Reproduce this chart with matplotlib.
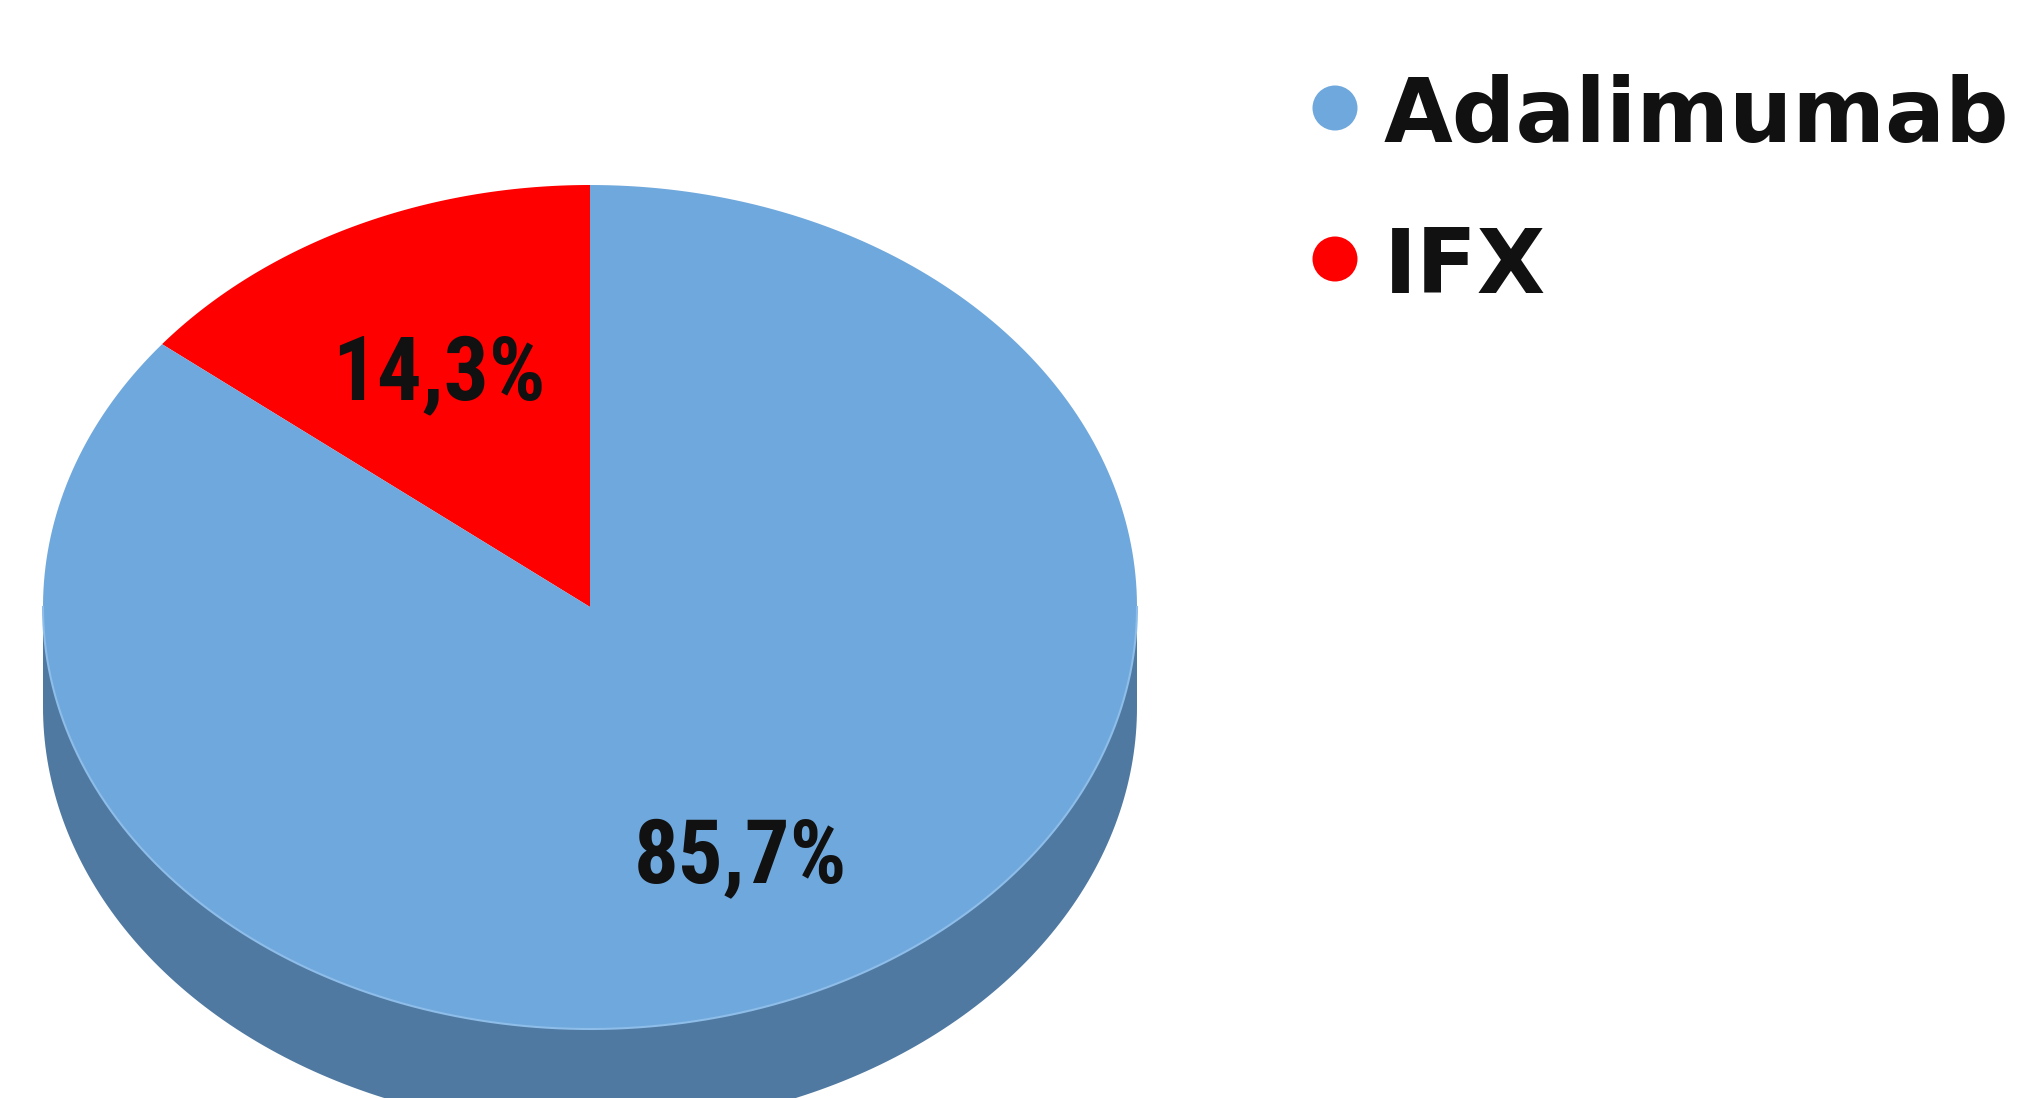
"""3D-style pie: share of Adalimumab vs IFX."""

import numpy as np
import matplotlib
matplotlib.use("Agg")
import matplotlib.pyplot as plt
from matplotlib import font_manager
from matplotlib.patches import Polygon

labels = ["Adalimumab", "IFX"]
values = [85.7, 14.3]
pct_text = ["85,7%", "14,3%"]
top_colors = ["#6FA8DC", "#FF0000"]
side_colors = ["#4F79A1", "#B00000"]

# pie geometry (pixels, y down)
CX, CY = 590, 607
RX, RY = 547, 422
DEPTH = 100
START = 90.0  # IFX begins at 12 o'clock and runs counter-clockwise


def pick_font(cands):
    have = {f.name for f in font_manager.fontManager.ttflist}
    for c in cands:
        if c in have:
            return c
    return "DejaVu Sans"


NARROW = pick_font(["Liberation Sans Narrow", "Roboto Condensed", "DejaVu Sans"])


def pt(t_deg, r=1.0, dy=0.0):
    t = np.deg2rad(t_deg)
    return CX + r * RX * np.cos(t), CY - r * RY * np.sin(t) + dy


def main():
    fig = plt.figure(figsize=(20.18, 10.98), dpi=100)
    ax = fig.add_axes([0, 0, 1, 1])
    ax.set_xlim(0, 2018)
    ax.set_ylim(1098, 0)
    ax.axis("off")

    # angle ranges: IFX first from START, then Adalimumab
    order = [1, 0]
    spans = {}
    a0 = START
    for i in order:
        a1 = a0 + values[i] / sum(values) * 360.0
        spans[i] = (a0, a1)
        a0 = a1

    # side wall (only front half, angles 180..360, visible)
    for i, (s, e) in spans.items():
        for off in (0.0, 360.0):
            lo = max(s, 180 + off)
            hi = min(e, 360 + off)
            if hi <= lo:
                continue
            tt = np.linspace(lo, hi, 200)
            xs, ys = pt(tt)
            xb, yb = pt(tt[::-1], dy=DEPTH)
            poly = np.column_stack([np.r_[xs, xb], np.r_[ys, yb]])
            ax.add_patch(Polygon(poly, closed=True, fc=side_colors[i], ec="none", zorder=1))

    # top face wedges
    for i, (s, e) in spans.items():
        tt = np.linspace(s, e, 300)
        xs, ys = pt(tt)
        poly = np.column_stack([np.r_[CX, xs], np.r_[CY, ys]])
        ax.add_patch(Polygon(poly, closed=True, fc=top_colors[i], ec="none", zorder=2))

    # thin light rim between top and side
    tt = np.linspace(180, 360, 300)
    xs, ys = pt(tt)
    ax.plot(xs, ys, color="#8DBDE8", lw=1.5, zorder=3)

    # percentage labels at mid angles
    for i, (s, e) in spans.items():
        x, y = pt((s + e) / 2, r=0.635)
        ax.text(x, y + 10, pct_text[i], ha="center", va="center", fontsize=64,
                fontweight="bold", family=[NARROW, "DejaVu Sans"], color="#111111", zorder=4)

    # legend
    leg_base = [142, 293]
    for lab, col, y in zip(labels, top_colors, leg_base):
        ax.scatter([1335], [y - 34], s=1050, color=col, edgecolors="none", zorder=4)
        ax.text(1384, y, lab, ha="left", va="baseline", fontsize=64,
                fontweight="bold", family="DejaVu Sans", color="#111111")

    fig.savefig("out.png", dpi=100)


if __name__ == "__main__":
    main()
